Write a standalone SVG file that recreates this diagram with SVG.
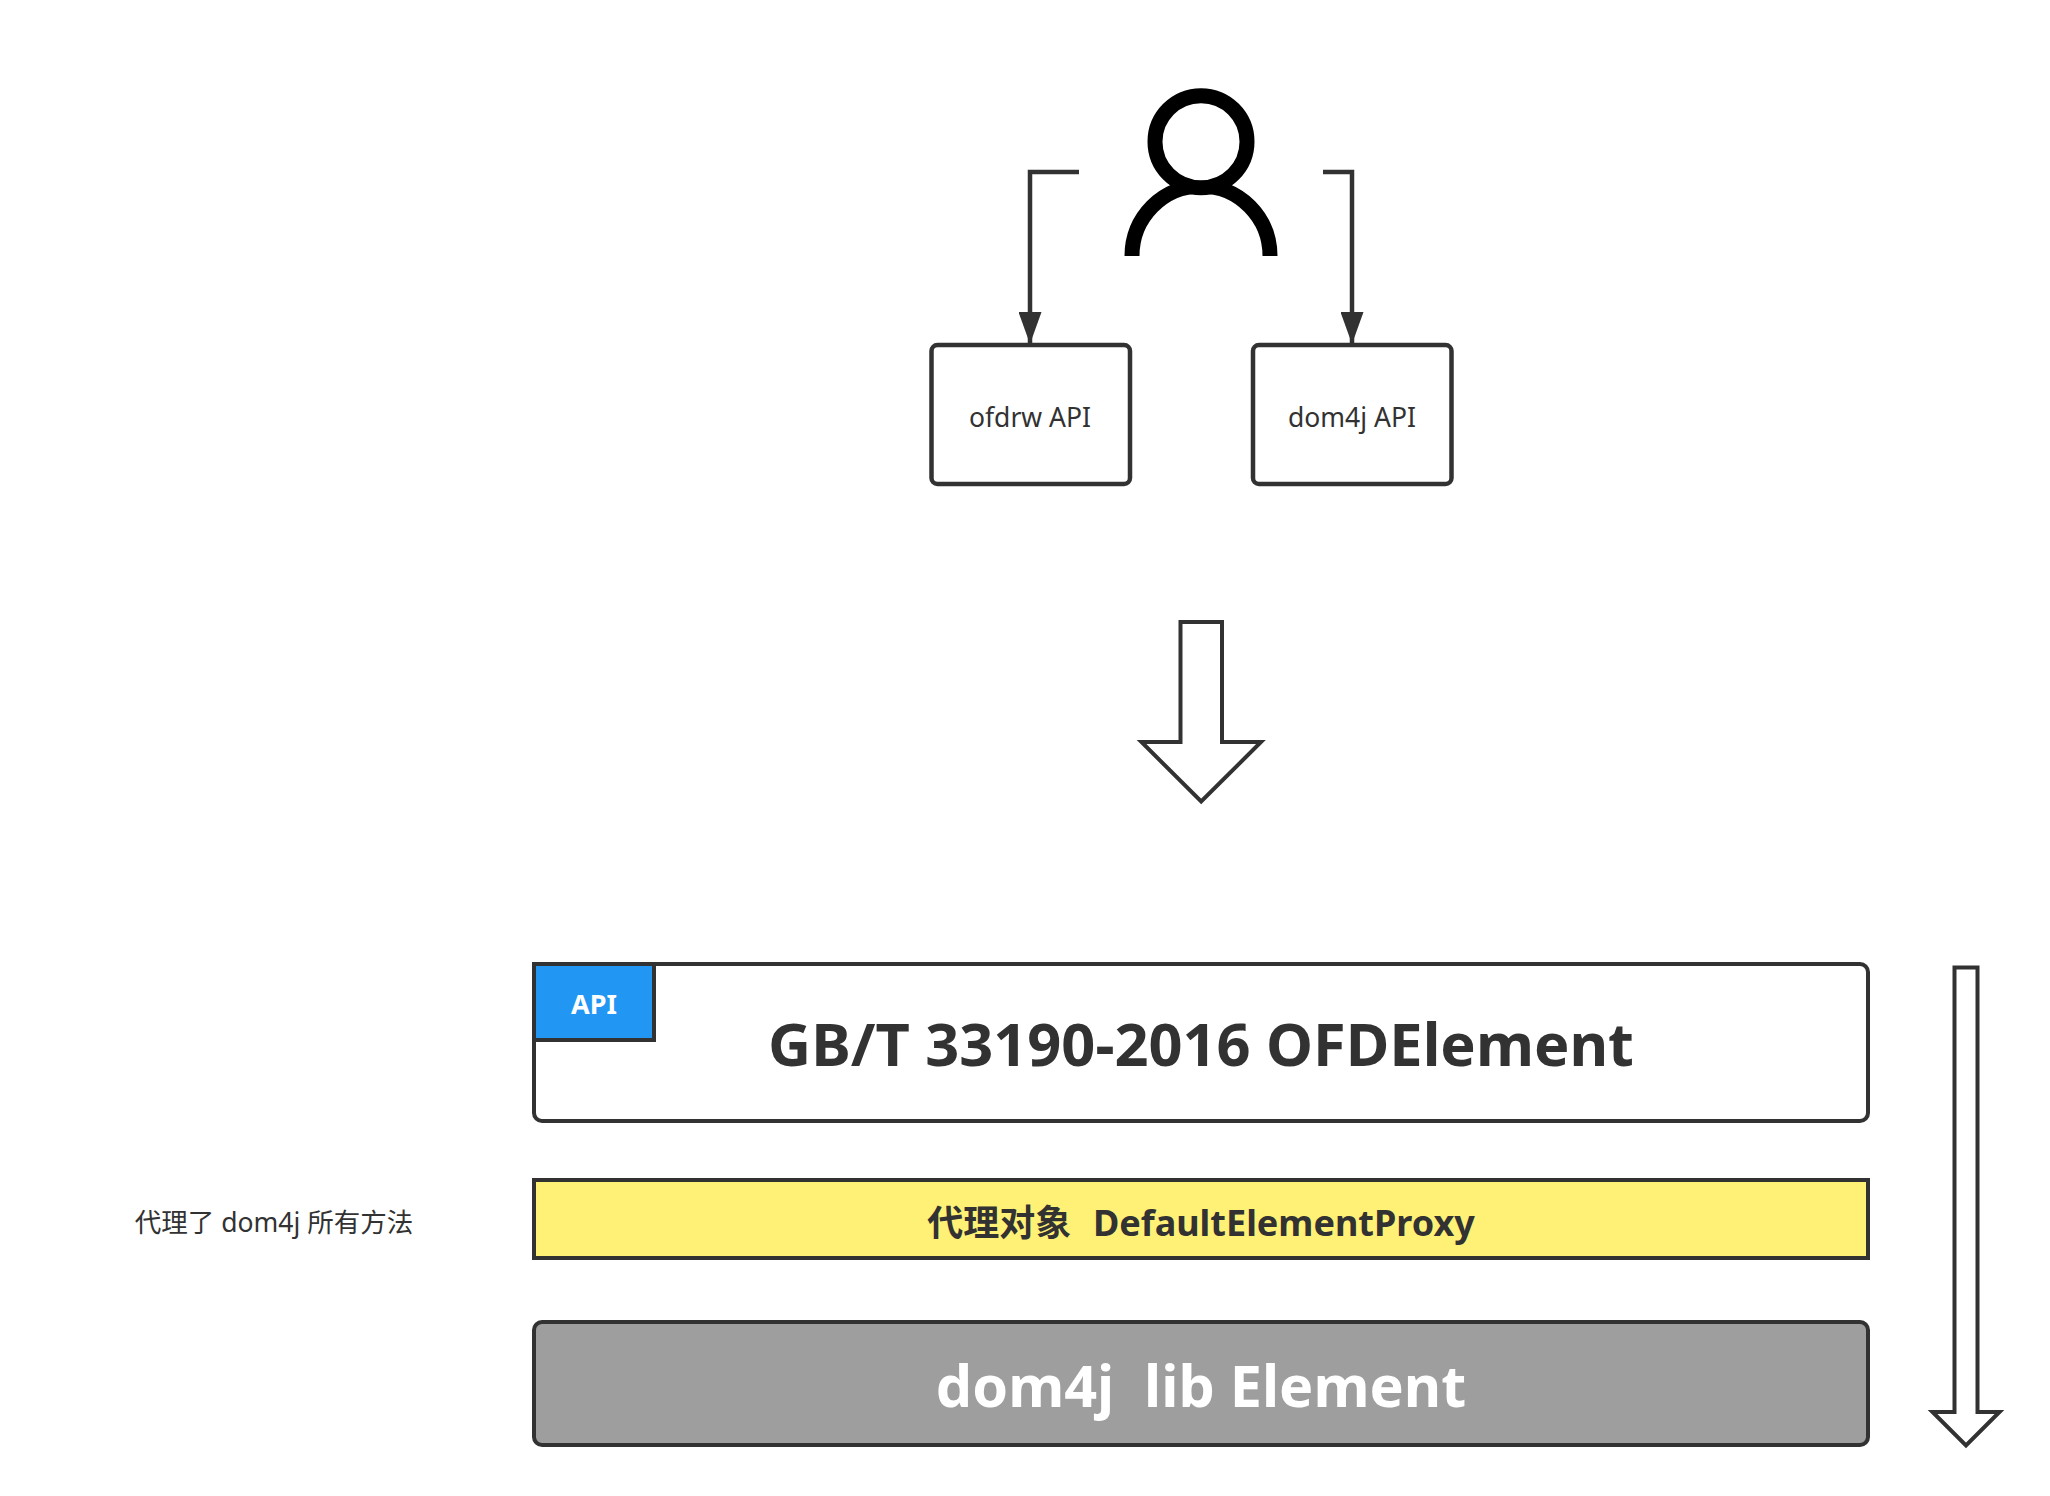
<svg xmlns="http://www.w3.org/2000/svg" width="2050" height="1496" viewBox="0 0 2050 1496">
<style>
.s{stroke:#323232;stroke-width:4.500;fill:none}
.b{fill:#fff;stroke:#323232;stroke-width:4}
.n{fill:#fff;stroke:#323232;stroke-width:4.500}
text{font-family:"Noto Sans","Noto Sans CJK SC",sans-serif;fill:#323232;text-anchor:middle;white-space:pre}
.h{font-weight:700}
</style>
<defs><marker id="a" markerUnits="userSpaceOnUse" markerWidth="32" markerHeight="23" refX="31" refY="11.500" orient="auto" viewBox="0 0 32 23"><path d="M0 0L32 11.500L0 23Z" fill="#323232"/></marker></defs>
<rect width="2050" height="1496" fill="#fff"/>
<g id="connectors">
<path class="s" d="M1079 172H1030V343" marker-end="url(#a)"/>
<path class="s" d="M1323 172H1352V343" marker-end="url(#a)"/>
</g>
<g id="user" stroke="#000" stroke-width="15">
<path fill="none" d="M1132 256A69 70 0 0 1 1270 256"/>
<circle cx="1201" cy="141.700" r="46" fill="#fff"/>
</g>
<g id="ofdrw"><rect class="n" x="931.500" y="345" width="198.500" height="139" rx="6"/><text x="1030" y="427" font-size="26.500">ofdrw API</text></g>
<g id="dom4j"><rect class="n" x="1253" y="345" width="198.500" height="139" rx="6"/><text x="1352" y="427" font-size="26.500">dom4j API</text></g>
<g id="down1"><path class="b" d="M1180.500 622H1222V742H1261L1201.200 801.500L1141.500 742H1180.500Z"/></g>
<g id="ofdelement"><rect class="b" x="534" y="964" width="1334" height="157" rx="8"/>
<text class="h" x="1201" y="1066" font-size="59.500">GB/T 33190-2016 OFDElement</text></g>
<g id="api"><rect x="534" y="964" width="120" height="76" fill="#2196f3" stroke="#323232" stroke-width="4"/><text class="h" x="594" y="1014" font-size="27" style="fill:#fff">API</text></g>
<g id="proxy"><rect x="534" y="1180" width="1334" height="78" fill="#fff176" stroke="#323232" stroke-width="4"/><text class="h" x="1201" y="1236" font-size="36" word-spacing="1.500">代理对象  DefaultElementProxy</text></g>
<g id="lib"><rect x="534" y="1322" width="1334" height="123" rx="8" fill="#9e9e9e" stroke="#323232" stroke-width="4"/><text class="h" x="1201" y="1407" font-size="57.500" style="fill:#fff">dom4j  lib Element</text></g>
<g id="down2"><path class="b" d="M1954.500 967.500H1977.500V1412H1999.500L1966 1445.500L1932.500 1412H1954.500Z"/></g>
<g id="note"><text x="274" y="1232" font-size="26.500">代理了 dom4j 所有方法</text></g>
</svg>
